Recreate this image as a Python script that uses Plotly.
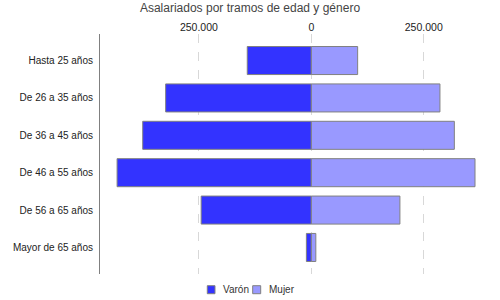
import plotly.graph_objects as go

categories = ["Hasta 25 años", "De 26 a 35 años", "De 36 a 45 años",
              "De 46 a 55 años", "De 56 a 65 años", "Mayor de 65 años"]
varon = [142500, 324000, 375000, 432000, 245000, 11000]
mujer = [103000, 286000, 318000, 364000, 197000, 10000]
tick_vals = [-250000, 0, 250000]
tick_text = ["250.000", "0", "250.000"]
series_names = ["Varón", "Mujer"]
series_colors = ["#3333FF", "#9999FF"]

FONT = "Liberation Sans, Arial, sans-serif"

fig = go.Figure()
fig.add_trace(go.Bar(
    y=categories, x=[-v for v in varon], orientation="h", name=series_names[0],
    marker=dict(color=series_colors[0], line=dict(color="#808080", width=1)),
))
fig.add_trace(go.Bar(
    y=categories, x=mujer, orientation="h", name=series_names[1],
    marker=dict(color=series_colors[1], line=dict(color="#808080", width=1)),
))
fig.add_trace(go.Scatter(x=[0], y=[categories[0]], xaxis="x2", mode="markers",
                         marker=dict(opacity=0), showlegend=False, hoverinfo="skip"))

xr = [-470000, 404000]
fig.update_layout(
    width=500, height=300,
    margin=dict(l=100, r=7, t=34, b=26),
    paper_bgcolor="white", plot_bgcolor="white",
    barmode="relative", bargap=0.25,
    showlegend=False,
    font=dict(family=FONT, size=10, color="#222"),
    title=dict(text="Asalariados por tramos de edad y género", x=0.5, xanchor="center",
               y=0.975, yanchor="middle", font=dict(family=FONT, size=12, color="#444")),
    xaxis=dict(range=xr, tickvals=tick_vals, showticklabels=False, showgrid=True,
               gridcolor="#d8d8d8", griddash="dash", gridwidth=1, zeroline=False,
               showline=False, ticks=""),
    xaxis2=dict(range=xr, tickvals=tick_vals, ticktext=tick_text, overlaying="x",
                side="top", anchor="y", showgrid=False, zeroline=False, showline=False,
                ticks="", tickfont=dict(size=10.5, color="#222")),
    yaxis=dict(range=[5.71, -0.71], showline=True, linecolor="#808080", linewidth=1,
               ticks="", showgrid=False, ticklabelstandoff=4,
               tickfont=dict(size=10, color="#222")),
)

# manual legend below the plot
sq_x = [(0.273, 0.2926), (0.3885, 0.4089)]
txt_x = [0.3071, 0.4242]
for (x0, x1), tx, name, col in zip(sq_x, txt_x, series_names, series_colors):
    fig.add_shape(type="rect", xref="paper", yref="paper", x0=x0, x1=x1,
                  y0=-0.0821, y1=-0.04875, fillcolor=col,
                  line=dict(color="#808080", width=1))
    fig.add_annotation(text=name, xref="paper", yref="paper", x=tx, y=-0.0654,
                       xanchor="left", yanchor="middle", showarrow=False,
                       font=dict(size=10, color="#333"))

fig.write_html("out.html")
